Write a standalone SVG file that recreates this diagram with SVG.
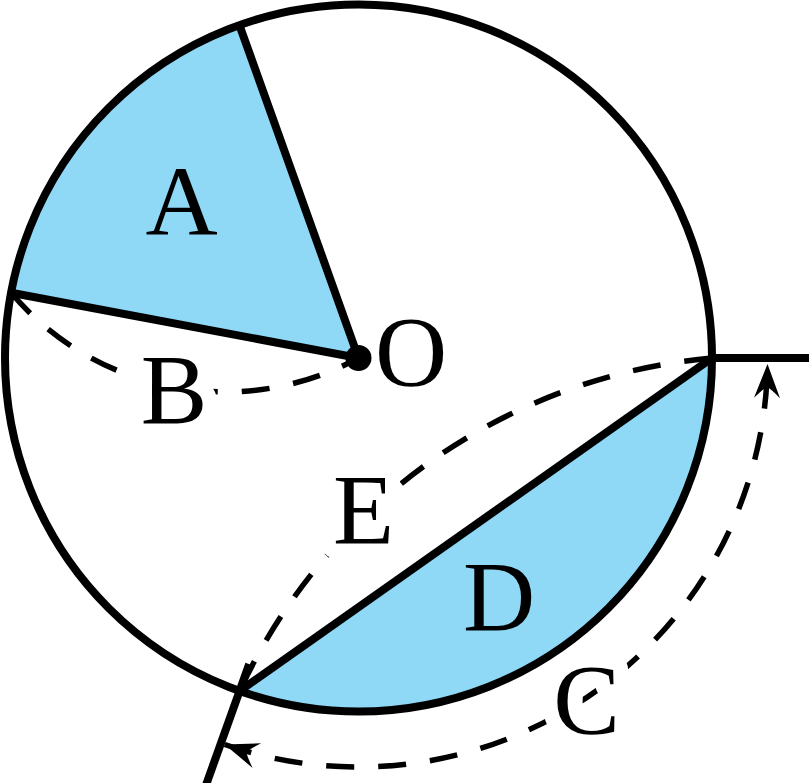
<svg xmlns="http://www.w3.org/2000/svg" width="809" height="783" viewBox="0 0 809 783">
  <style>
    .fill { fill: #8fd8f6; stroke: none; }
    .solid { fill: none; stroke: #000; stroke-width: 8; stroke-linejoin: round; }
    .dash { fill: none; stroke: #000; stroke-width: 5.5; stroke-dasharray: 28 24; }
    .lbl { font-family: 'Liberation Serif', 'Times New Roman', Times, serif; font-size: 100px; fill: #000; text-anchor: middle; }
    .halo { stroke: #fff; stroke-width: 30; stroke-linejoin: round; paint-order: stroke; }
  </style>
  <defs>
    <marker id="arr" markerUnits="userSpaceOnUse" viewBox="-36 -16 38 32" refX="0" refY="0" markerWidth="38" markerHeight="32" orient="auto-start-reverse" overflow="visible">
      <path d="M0,0 L-34,-13 Q-25,-4 -23,0 Q-25,4 -34,13 Z" fill="#000" stroke="none"/>
    </marker>
  </defs>
  <rect width="809" height="783" fill="#fff"/>

  <g id="sectorA">
    <path class="fill" d="M358.5 358 L239.4 25.1 A353.5 353.5 0 0 0 11.1 292.8 Z"/>
  </g>
  <g id="segmentD">
    <path class="fill" d="M712 358 A353.5 353.5 0 0 1 239.7 690.9 Z"/>
  </g>

  <g id="connectors">
    <path id="arcB" class="dash" d="M11.1 292.8 A280 280 0 0 0 358.5 358"/>
    <path id="arcE" class="dash" d="M712 358 A577 577 0 0 0 239.7 690.9"/>
    <path id="arcC" class="dash" d="M224.7 744.5 A409 409 0 0 0 767.5 364" marker-start="url(#arr)" marker-end="url(#arr)"/>
  </g>

  <g id="labels">
    <text class="lbl" x="181.5" y="235">A</text>
    <text class="lbl halo" x="174" y="423">B</text>
    <text class="lbl halo" x="363.5" y="543">E</text>
    <text class="lbl" x="499" y="630">D</text>
    <text class="lbl halo" x="586.5" y="733">C</text>
    <text class="lbl" x="411" y="385">O</text>
  </g>

  <g id="circle">
    <circle class="solid" cx="358.5" cy="358" r="353.5"/>
  </g>
  <g id="radii">
    <path class="solid" d="M239.4 25.1 L358.5 358 L11.1 292.8"/>
    <path class="solid" d="M712 358 L239.7 690.9"/>
    <path class="solid" d="M712 358 L809 358"/>
    <path class="solid" d="M249.2 664.1 L203.8 791.2"/>
  </g>
  <g id="pointO">
    <circle cx="358.5" cy="358" r="13" fill="#000"/>
  </g>
</svg>
